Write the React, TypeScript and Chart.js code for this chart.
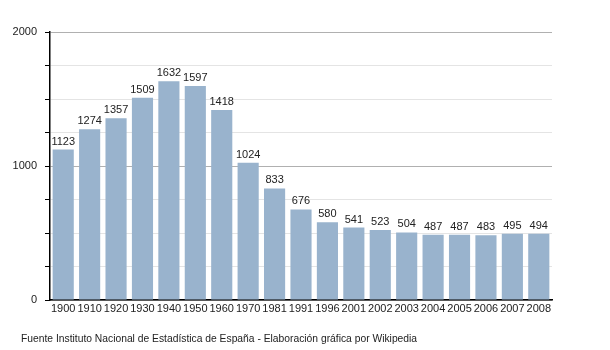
import React, { useEffect, useRef } from "react";
import { Chart, registerables } from "chart.js";

Chart.register(...registerables);

const years = ["1900","1910","1920","1930","1940","1950","1960","1970","1981","1991","1996","2001","2002","2003","2004","2005","2006","2007","2008"];
const population = [1123,1274,1357,1509,1632,1597,1418,1024,833,676,580,541,523,504,487,487,483,495,494];
const yTickLabels = [0, 1000, 2000];
const sourceText = "Fuente Instituto Nacional de Estadística de España - Elaboración gráfica por Wikipedia";

const FONT = "'Liberation Sans', Arial, sans-serif";

const labelsPlugin = {
  id: "barLabels",
  afterDatasetsDraw(chart: any) {
    const ctx = chart.ctx;
    const meta = chart.getDatasetMeta(0);
    ctx.save();
    ctx.font = `11px ${FONT}`;
    ctx.fillStyle = "#222";
    ctx.textAlign = "center";
    ctx.textBaseline = "alphabetic";
    meta.data.forEach((bar: any, i: number) => {
      ctx.fillText(String(population[i]), bar.x, bar.y - 5);
    });
    ctx.restore();
  },
};

const footerPlugin = {
  id: "footer",
  afterDraw(chart: any) {
    const ctx = chart.ctx;
    ctx.save();
    ctx.font = `10.3px ${FONT}`;
    ctx.fillStyle = "#222";
    ctx.textAlign = "left";
    ctx.textBaseline = "middle";
    ctx.fillText(sourceText, 21, 339);
    ctx.restore();
  },
};

export default function App() {
  const ref = useRef<HTMLCanvasElement>(null);
  useEffect(() => {
    document.body.style.margin = "0";
    const chart = new Chart(ref.current!, {
      type: "bar",
      data: {
        labels: years,
        datasets: [
          {
            data: population,
            backgroundColor: "#99b3cd",
            borderWidth: 0,
            barPercentage: 0.8,
            categoryPercentage: 1,
          },
        ],
      },
      options: {
        animation: false,
        responsive: false,
        layout: { padding: { top: 32, right: 58, left: 0, bottom: 0 } },
        plugins: { legend: { display: false }, tooltip: { enabled: false } },
        scales: {
          x: {
            grid: { display: false, drawTicks: false, tickLength: 0 },
            border: { display: true, color: "#000", width: 1.5 },
            ticks: { color: "#222", font: { family: FONT, size: 11 }, padding: 2, maxRotation: 0, autoSkip: false },
            afterFit(scale: any) { scale.height = 50; },
          },
          y: {
            min: 0,
            max: 2000,
            border: { display: true, color: "#000", width: 1.5 },
            grid: {
              color: (c: any) => (c.tick && c.tick.value % 1000 === 0 ? "#b0b0b0" : "#e4e4e4"),
              tickColor: "#000",
              tickLength: 5,
            },
            ticks: {
              stepSize: 250,
              color: "#222",
              padding: 8,
              font: { family: FONT, size: 11 },
              callback: (v: any) => (yTickLabels.includes(Number(v)) ? String(v) : ""),
            },
            afterFit(scale: any) { scale.width = 50; },
          },
        },
      },
      plugins: [labelsPlugin, footerPlugin],
    });
    return () => chart.destroy();
  }, []);
  return (
    <div style={{ position: "absolute", left: 0, top: 0, width: 610, height: 350, background: "#fff" }}>
      <canvas ref={ref} width={610} height={350} />
    </div>
  );
}
